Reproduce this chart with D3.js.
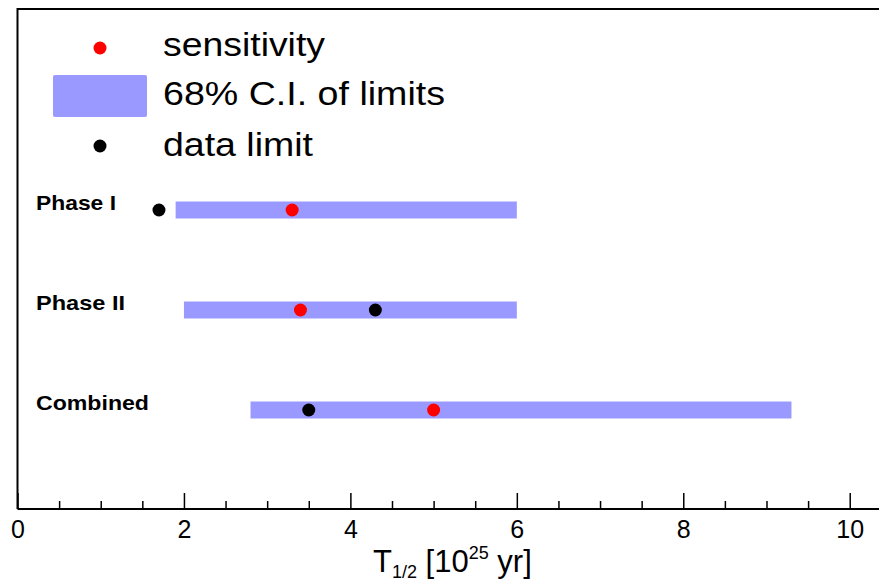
<!DOCTYPE html>
<html>
<head>
<meta charset="utf-8">
<script src="https://cdn.jsdelivr.net/npm/d3@7"></script>
<style>
    body { margin: 0; background: #fff; }
    svg { display: block; font-family: "Liberation Sans", Arial, sans-serif; }
</style>
</head>
<body>
<div id="chart"></div>
<script>
// Data for the chart
const categories = ["Phase I", "Phase II", "Combined"];
const ciLow = [1.9, 2.0, 2.8];
const ciHigh = [6.0, 6.0, 9.3];
const sensitivity = [3.3, 3.4, 5.0];
const dataLimit = [1.7, 4.3, 3.5];
const majorTicks = [0, 2, 4, 6, 8, 10];
const minorTicks = [0.5, 1, 1.5, 2.5, 3, 3.5, 4.5, 5, 5.5, 6.5, 7, 7.5, 8.5, 9, 9.5];
const legendLabels = ["sensitivity", "68% C.I. of limits", "data limit"];

const width = 879, height = 581;
const bandColor = "#9999ff";

const svg = d3.select("#chart").append("svg")
    .attr("width", width)
    .attr("height", height);

// Scales (frame runs off the right side of the picture)
const x = d3.scaleLinear().domain([0, 10.4]).range([17.5, 883]);
const y = d3.scalePoint().domain(categories).range([210, 410]);
const frameTop = 9, frameBottom = 509;

// Frame: left and top edges
svg.append("path")
    .attr("d", `M${x(0)},${frameBottom}V${frameTop}H${width + 10}`)
    .attr("fill", "none")
    .attr("stroke", "#000")
    .attr("stroke-width", 2);

// Bottom axis, ticks pointing inwards
const axisG = svg.append("g")
    .attr("transform", `translate(0,${frameBottom})`);

axisG.append("g")
    .call(d3.axisBottom(x).tickValues(minorTicks).tickSizeInner(-8).tickSizeOuter(0).tickFormat(""))
    .call(g => g.select(".domain").remove());

axisG.append("g")
    .call(d3.axisBottom(x).tickValues(majorTicks).tickSizeInner(-16).tickSizeOuter(0).tickPadding(11).tickFormat(d3.format("d")))
    .call(g => g.select(".domain").remove())
    .call(g => g.selectAll("text").attr("font-size", 25).attr("font-family", "Liberation Sans, Arial, sans-serif").attr("fill", "#000"));

axisG.selectAll(".tick line").attr("stroke", "#000").attr("stroke-width", 1.5);

axisG.append("line")
    .attr("x1", x(0)).attr("x2", width + 10)
    .attr("stroke", "#000")
    .attr("stroke-width", 2);

// Axis title
const title = svg.append("text")
    .attr("x", 373)
    .attr("y", 572)
    .attr("font-size", 31)
    .attr("fill", "#000");
title.append("tspan").text("T");
title.append("tspan").attr("font-size", 18).attr("dy", 6).text("1/2");
title.append("tspan").attr("dy", -6).text(" [10");
title.append("tspan").attr("font-size", 18).attr("dy", -13).text("25");
title.append("tspan").attr("dy", 13).text(" yr]");

// Confidence bands
svg.append("g")
    .selectAll("rect")
    .data(categories)
    .enter().append("rect")
    .attr("x", (d, i) => x(ciLow[i]))
    .attr("y", d => y(d) - 8.5)
    .attr("width", (d, i) => x(ciHigh[i]) - x(ciLow[i]))
    .attr("height", 17)
    .attr("fill", bandColor);

// Sensitivity points
svg.append("g")
    .selectAll("circle")
    .data(categories)
    .enter().append("circle")
    .attr("cx", (d, i) => x(sensitivity[i]))
    .attr("cy", d => y(d))
    .attr("r", 6.5)
    .attr("fill", "#ff0000");

// Data limit points
svg.append("g")
    .selectAll("circle")
    .data(categories)
    .enter().append("circle")
    .attr("cx", (d, i) => x(dataLimit[i]))
    .attr("cy", d => y(d))
    .attr("r", 6.5)
    .attr("fill", "#000");

// Row labels
const labelWidths = [80, 89, 113];
svg.append("g")
    .selectAll("text")
    .data(categories)
    .enter().append("text")
    .attr("x", 36)
    .attr("y", d => y(d))
    .attr("font-size", 21)
    .attr("font-weight", "bold")
    .attr("textLength", (d, i) => labelWidths[i])
    .attr("lengthAdjust", "spacingAndGlyphs")
    .text(d => d);

// Legend
const legend = svg.append("g");
legend.append("circle").attr("cx", 100).attr("cy", 48).attr("r", 6.5).attr("fill", "#ff0000");
legend.append("rect").attr("x", 53).attr("y", 75).attr("width", 94).attr("height", 42).attr("rx", 2).attr("fill", bandColor);
legend.append("circle").attr("cx", 100).attr("cy", 146).attr("r", 6.5).attr("fill", "#000");

const legendWidths = [162, 282, 150];
const legendY = [56, 105, 156];
legend.selectAll("text")
    .data(legendLabels)
    .enter().append("text")
    .attr("x", 163)
    .attr("y", (d, i) => legendY[i])
    .attr("font-size", 33)
    .attr("textLength", (d, i) => legendWidths[i])
    .attr("lengthAdjust", "spacingAndGlyphs")
    .text(d => d);
</script>
</body>
</html>
